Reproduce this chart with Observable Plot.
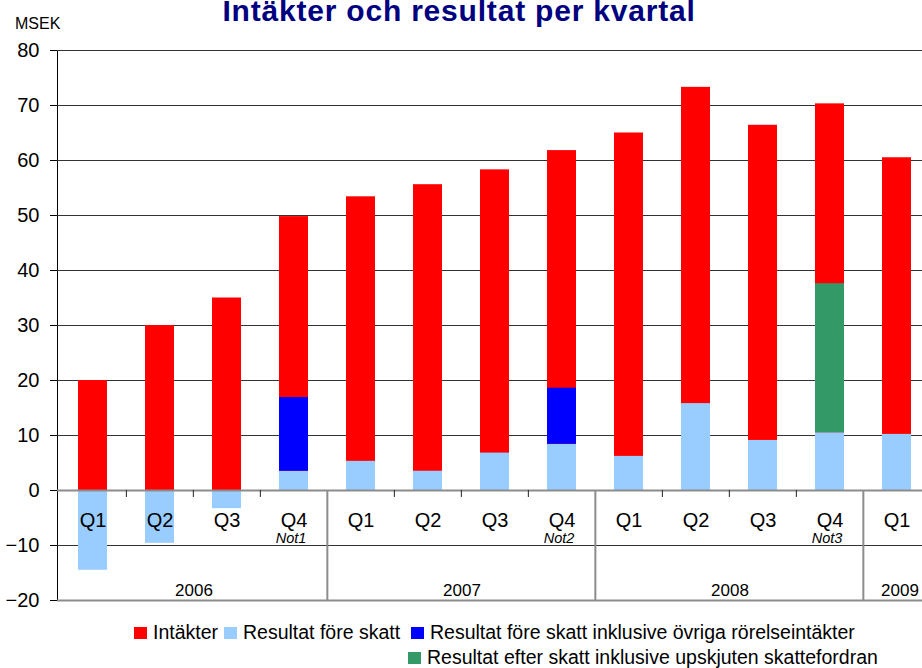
<!DOCTYPE html>
<html><head><meta charset="utf-8">
<script src="https://cdn.jsdelivr.net/npm/d3@7"></script>
<script src="https://cdn.jsdelivr.net/npm/@observablehq/plot@0.6"></script>
<style>
body{margin:0;background:#fff;font-family:"Liberation Sans",Arial,sans-serif;color:#000;}
#wrap{position:relative;width:922px;height:668px;overflow:hidden;}
#title{position:absolute;left:0;width:918px;top:-4px;text-align:center;font-weight:bold;font-size:30px;line-height:30px;letter-spacing:0.8px;color:#000080;white-space:nowrap;}
#unit{position:absolute;left:15px;top:16px;font-size:16px;line-height:16px;}
#chart{position:absolute;left:0;top:0;}
.leg{position:absolute;display:flex;align-items:center;font-size:19.5px;line-height:25px;height:25px;white-space:nowrap;}
.sw{width:13px;height:12px;margin-right:6px;}
</style></head>
<body><div id="wrap">
<div id="chart"></div>
<div id="title">Intäkter och resultat per kvartal</div>
<div id="unit">MSEK</div>
<div id="legend"></div>
</div>
<script>
const quarters = ["Q1","Q2","Q3","Q4","Q1","Q2","Q3","Q4","Q1","Q2","Q3","Q4","Q1"];
const years    = ["2006","2006","2006","2006","2007","2007","2007","2007","2008","2008","2008","2008","2009"];
const notes    = ["","","","Not1","","","","Not2","","","","Not3",""];
const intakter = [20, 30, 35, 49.8, 53.4, 55.6, 58.3, 61.8, 65.0, 73.3, 66.4, 70.3, 60.5];
const resultatForeSkatt = [-14.5, -9.6, -3.3, 3.5, 5.3, 3.5, 6.8, 8.4, 6.2, 15.8, 9.1, 10.5, 10.2];
const resultatInklOvriga = [null, null, null, 16.9, null, null, null, 18.6, null, null, null, null, null];
const resultatEfterSkatt = [null, null, null, null, null, null, null, null, null, null, null, 37.6, null];
const yTicks = [-20, -10, 0, 10, 20, 30, 40, 50, 60, 70, 80];
const seriesNames = ["Intäkter", "Resultat före skatt", "Resultat före skatt inklusive övriga rörelseintäkter", "Resultat efter skatt inklusive upskjuten skattefordran"];
const seriesColors = ["#FF0000", "#99CCFF", "#0000FF", "#339966"];

const keys = quarters.map((q, i) => years[i] + " " + q);
const rows = keys.map((k, i) => ({
  key: k, q: quarters[i], year: years[i], note: notes[i],
  intakter: intakter[i], resultat: resultatForeSkatt[i],
  inkl: resultatInklOvriga[i], efter: resultatEfterSkatt[i]
}));

const xRange = [57, 932];
const step = (xRange[1] - xRange[0]) / keys.length;

const yearGroups = d3.groups(rows, d => d.year).map(([year, g]) => ({year, first: g[0].key, n: g.length}));
const yearMarks = yearGroups.map(g =>
  Plot.text([g], {x: "first", y: 0, text: "year", dx: (g.n - 1) * step / 2 + (g.n === 1 ? 3 : 0), dy: 100, fontSize: 17})
);

const chart = Plot.plot({
  width: 922, height: 615,
  marginLeft: 57, marginRight: 0, marginTop: 50, marginBottom: 15,
  style: {fontFamily: '"Liberation Sans", Arial, sans-serif', fontSize: "20px", color: "#000", background: "#fff"},
  x: {type: "band", domain: keys, range: xRange, paddingInner: 0.57, paddingOuter: 0.285, axis: null},
  y: {domain: [-20, 80], ticks: yTicks, tickSize: 7, tickPadding: 11, label: null, line: true},
  marks: [
    Plot.ruleY(yTicks.filter(v => v !== 0 && v !== -20), {stroke: "#333", strokeWidth: 1}),
    Plot.barY(rows, {x: "key", y1: 0, y2: "intakter", fill: seriesColors[0]}),
    Plot.barY(rows, {x: "key", y1: 0, y2: "resultat", fill: seriesColors[1]}),
    Plot.barY(rows.filter(d => d.inkl != null), {x: "key", y1: "resultat", y2: "inkl", fill: seriesColors[2]}),
    Plot.barY(rows.filter(d => d.efter != null), {x: "key", y1: "resultat", y2: "efter", fill: seriesColors[3]}),
    Plot.ruleY([0], {stroke: "#8c8c8c", strokeWidth: 2}),
    Plot.ruleY([-20], {stroke: "#8c8c8c", strokeWidth: 2}),
    Plot.ruleX(rows.filter((d, i) => i > 0 && d.q !== "Q1"), {x: "key", dx: -step / 2, y1: 0, y2: 0, insetBottom: -7, stroke: "#222"}),
    Plot.ruleX(rows.filter((d, i) => i > 0 && d.q === "Q1"), {x: "key", dx: -step / 2, y1: 0, y2: -20, stroke: "#8c8c8c", strokeWidth: 2}),
    Plot.text(rows, {x: "key", y: 0, text: "q", dy: 30, fontSize: 20}),
    Plot.text(rows.filter(d => d.note), {x: "key", y: 0, text: "note", dy: 48, dx: -3, fontSize: 14.5, fontStyle: "italic"}),
    ...yearMarks
  ]
});
document.getElementById("chart").appendChild(chart);

const legend = document.getElementById("legend");
const legPos = [[134, 620], [224, 620], [411, 620], [408, 645]];
seriesNames.forEach((name, i) => {
  const el = document.createElement("div");
  el.className = "leg";
  el.style.left = legPos[i][0] + "px";
  el.style.top = legPos[i][1] + "px";
  const sw = document.createElement("span");
  sw.className = "sw";
  sw.style.background = seriesColors[i];
  el.appendChild(sw);
  el.appendChild(document.createTextNode(name));
  legend.appendChild(el);
});
</script>
</body></html>
